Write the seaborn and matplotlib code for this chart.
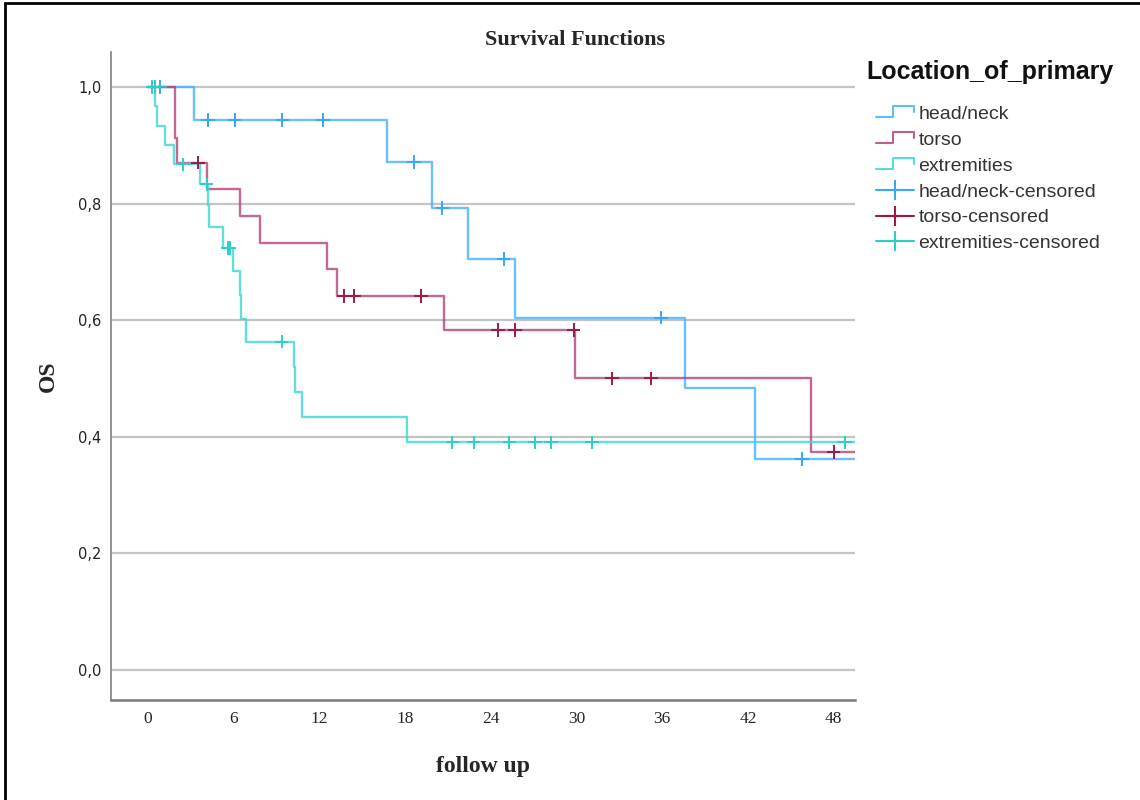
import numpy as np
import pandas as pd
import matplotlib
matplotlib.use("Agg")
import matplotlib.pyplot as plt
import seaborn as sns
from matplotlib.lines import Line2D
from matplotlib.legend_handler import HandlerBase
from matplotlib.patches import Rectangle

# ---- Kaplan-Meier step data (time in months, survival proportion) ----
groups = ["head/neck", "torso", "extremities"]

head_times = [0, 3.2, 16.7, 19.9, 22.4, 25.7, 37.6, 42.5, 49.5]
head_surv = [1.0, 0.943, 0.871, 0.792, 0.705, 0.604, 0.484, 0.362, 0.362]
head_cens_t = [0.85, 4.2, 6.05, 9.4, 12.25, 18.6, 20.6, 24.9, 35.9, 45.8]
head_cens_s = [1.0, 0.943, 0.943, 0.943, 0.943, 0.871, 0.792, 0.705, 0.604, 0.362]

torso_times = [0, 1.85, 1.9, 2.0, 4.1, 6.4, 7.8, 12.5, 13.25, 20.7, 29.9, 46.4, 49.5]
torso_surv = [1.0, 0.957, 0.913, 0.870, 0.825, 0.779, 0.733, 0.687, 0.641, 0.583, 0.500, 0.374, 0.374]
torso_cens_t = [3.5, 13.7, 14.4, 19.1, 24.5, 25.7, 29.8, 32.5, 35.2, 48.0]
torso_cens_s = [0.870, 0.641, 0.641, 0.641, 0.583, 0.583, 0.583, 0.500, 0.500, 0.374]

ext_times = [0, 0.5, 0.6, 1.2, 1.8, 3.64, 4.22, 4.28, 5.27, 5.97, 6.44, 6.5,
             6.83, 10.2, 10.3, 10.75, 18.1, 49.5]
ext_surv = [1.0, 0.967, 0.933, 0.900, 0.867, 0.833, 0.797, 0.760, 0.724, 0.684, 0.643, 0.602,
            0.563, 0.520, 0.477, 0.433, 0.390, 0.390]
ext_cens_t = [0.3, 0.45, 2.43, 4.1, 5.56, 5.7, 9.35, 21.3, 22.8, 25.3, 27.1, 28.2, 31.1, 48.8]
ext_cens_s = [1.0, 1.0, 0.867, 0.833, 0.724, 0.724, 0.563, 0.390, 0.390, 0.390, 0.390, 0.390,
              0.390, 0.390]

y_ticks = [0.0, 0.2, 0.4, 0.6, 0.8, 1.0]
y_tick_labels = ["0,0", "0,2", "0,4", "0,6", "0,8", "1,0"]
x_ticks = [0, 6, 12, 18, 24, 30, 36, 42, 48]

# ---- tidy frames for seaborn ----
curves = pd.concat([
    pd.DataFrame({"time": head_times, "surv": head_surv, "group": groups[0]}),
    pd.DataFrame({"time": torso_times, "surv": torso_surv, "group": groups[1]}),
    pd.DataFrame({"time": ext_times, "surv": ext_surv, "group": groups[2]}),
], ignore_index=True)
censored = pd.concat([
    pd.DataFrame({"time": head_cens_t, "surv": head_cens_s, "group": groups[0]}),
    pd.DataFrame({"time": torso_cens_t, "surv": torso_cens_s, "group": groups[1]}),
    pd.DataFrame({"time": ext_cens_t, "surv": ext_cens_s, "group": groups[2]}),
], ignore_index=True)

line_colors = {"head/neck": "#44b2fb", "torso": "#b4427a", "extremities": "#3ad8cf"}
cens_colors = {"head/neck": "#3aa8f2", "torso": "#9a1a4c", "extremities": "#2ccfc6"}

sns.set_style("white")
plt.rcParams["font.family"] = ["DejaVu Sans"]

fig = plt.figure(figsize=(11.4, 8.0), dpi=100)
ax = fig.add_axes([111 / 1140, 1 - 700 / 800, (855 - 111) / 1140, (700 - 52) / 800])

for yv in y_ticks:
    ax.axhline(yv, color="#c4c4c4", lw=1.6, zorder=0)

sns.lineplot(data=curves, x="time", y="surv", hue="group", palette=line_colors,
             hue_order=groups, estimator=None, sort=False, drawstyle="steps-post",
             lw=1.7, alpha=0.8, legend=False, ax=ax)
sns.scatterplot(data=censored, x="time", y="surv", hue="group", palette=cens_colors,
                hue_order=groups, marker="+", s=95, linewidth=1.4, legend=False,
                ax=ax, zorder=3)

ax.set_xlim(-2.6, 49.5)
ax.set_ylim(-0.052, 1.06)
ax.set_xticks(x_ticks)
ax.set_xticklabels([str(v) for v in x_ticks], fontfamily="Liberation Serif", fontsize=12.5)
ax.set_yticks(y_ticks)
ax.set_yticklabels(y_tick_labels, fontfamily="DejaVu Sans", fontsize=10.5, color="#222222")
ax.tick_params(axis="both", length=0)
ax.tick_params(axis="y", pad=7)
ax.tick_params(axis="x", pad=8)

for side in ["top", "right"]:
    ax.spines[side].set_visible(False)
ax.spines["left"].set_color("#8a8a8a")
ax.spines["bottom"].set_color("#7a7a7a")
ax.spines["left"].set_linewidth(1.3)
ax.spines["bottom"].set_linewidth(1.8)

ax.set_xlabel("follow up", fontfamily="Liberation Serif", fontweight="bold",
              fontsize=17, labelpad=21)
ax.set_ylabel("OS", fontfamily="Liberation Serif", fontweight="bold",
              fontsize=17, labelpad=14)
fig.text(575 / 1140, 1 - 40 / 800, "Survival Functions", ha="center", va="center",
         fontfamily="Liberation Serif", fontweight="bold", fontsize=16)


# step-shaped legend icon for the survival curves
class StepHandler(HandlerBase):
    def create_artists(self, legend, orig_handle, xdescent, ydescent, width, height,
                       fontsize, trans):
        x0 = -xdescent
        y0 = -ydescent
        xs = [x0, x0 + 0.45 * width, x0 + 0.45 * width, x0 + width, x0 + width]
        ys = [y0 + 0.15 * height, y0 + 0.15 * height, y0 + 0.95 * height,
              y0 + 0.95 * height, y0 + 0.5 * height]
        ln = Line2D(xs, ys, color=orig_handle.get_color(), lw=1.5,
                    alpha=orig_handle.get_alpha(), transform=trans)
        return [ln]


step_handles = [Line2D([], [], color=line_colors[g], alpha=0.85) for g in groups]
cens_handles = [Line2D([], [], color=cens_colors[g], marker="+", markersize=14,
                       markeredgewidth=1.5, lw=1.5) for g in groups]
handles = step_handles + cens_handles
labels = groups + [g + "-censored" for g in groups]

# legend heading, drawn slightly left of the entries
fig.text(866 / 1140, 1 - 72 / 800, "Location_of_primary", ha="left", va="center",
         fontfamily="Liberation Sans", fontweight="bold", fontsize=18, color="#111111")

leg = fig.legend(handles, labels, loc="upper left",
                 bbox_to_anchor=(862 / 1140, 1 - 92 / 800),
                 frameon=False,
                 handler_map={h: StepHandler() for h in step_handles},
                 prop={"family": "Liberation Sans", "size": 14},
                 handlelength=1.95, handletextpad=0.25, labelspacing=0.42,
                 borderpad=0.2)
for t in leg.get_texts():
    t.set_color("#333333")

# outer frame of the figure
fig.patches.append(Rectangle((5 / 1140, -0.05), 1.2, 1.05 - 3 / 800,
                             transform=fig.transFigure, fill=False,
                             edgecolor="black", lw=2.0))

fig.savefig("out.png", dpi=100)
